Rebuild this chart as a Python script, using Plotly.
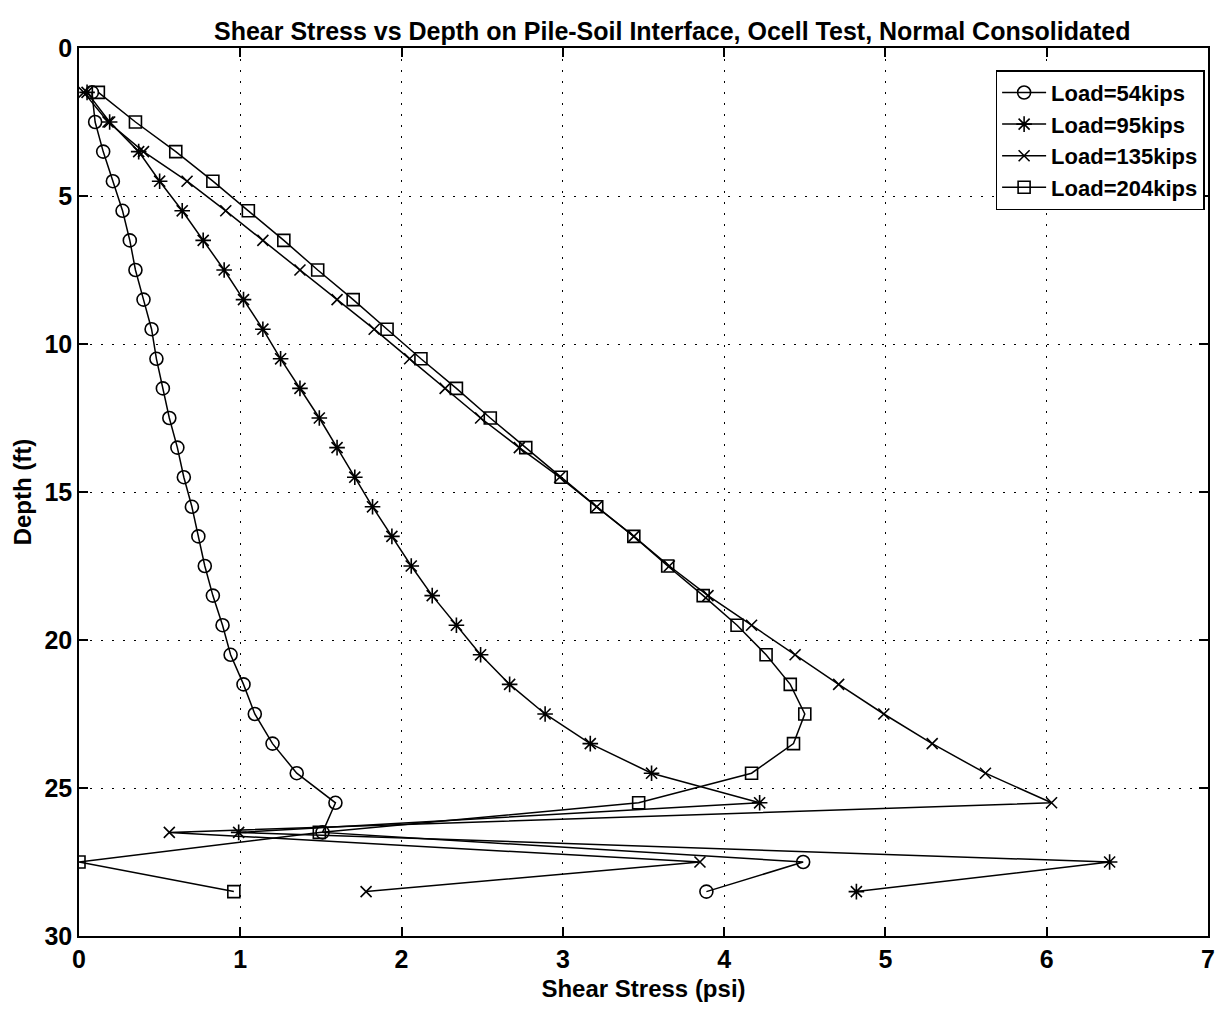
import plotly.graph_objects as go

depth_ft = [1.5, 2.5, 3.5, 4.5, 5.5, 6.5, 7.5, 8.5, 9.5, 10.5, 11.5, 12.5, 13.5, 14.5,
            15.5, 16.5, 17.5, 18.5, 19.5, 20.5, 21.5, 22.5, 23.5, 24.5, 25.5, 26.5, 27.5, 28.5]

stress_54kips = [0.08, 0.10, 0.15, 0.21, 0.27, 0.315, 0.35, 0.40, 0.45, 0.48, 0.52, 0.56, 0.61, 0.65,
                 0.70, 0.74, 0.78, 0.83, 0.89, 0.94, 1.02, 1.09, 1.20, 1.35, 1.59, 1.51, 4.49, 3.89]
stress_95kips = [0.05, 0.19, 0.37, 0.50, 0.64, 0.77, 0.90, 1.02, 1.14, 1.25, 1.37, 1.49, 1.60, 1.71,
                 1.82, 1.94, 2.06, 2.19, 2.34, 2.49, 2.67, 2.89, 3.17, 3.55, 4.22, 0.99, 6.39, 4.82]
stress_135kips = [0.03, 0.18, 0.40, 0.67, 0.91, 1.14, 1.37, 1.60, 1.83, 2.05, 2.27, 2.49, 2.73, 2.98,
                  3.21, 3.44, 3.66, 3.90, 4.17, 4.44, 4.71, 4.99, 5.29, 5.62, 6.03, 0.56, 3.85, 1.78]
stress_204kips = [0.12, 0.35, 0.60, 0.83, 1.05, 1.27, 1.48, 1.70, 1.91, 2.12, 2.34, 2.55, 2.77, 2.99,
                  3.21, 3.44, 3.65, 3.87, 4.08, 4.26, 4.41, 4.50, 4.43, 4.17, 3.47, 1.49, 0.00, 0.96]

series_names = ["Load=54kips", "Load=95kips", "Load=135kips", "Load=204kips"]
series_values = [stress_54kips, stress_95kips, stress_135kips, stress_204kips]
symbols = ["circle-open", "asterisk-open", "x-thin-open", "square-open"]
sizes = [13, 13, 11, 12]

x_ticks = [0, 1, 2, 3, 4, 5, 6, 7]
y_ticks = [0, 5, 10, 15, 20, 25, 30]

FONT = "Liberation Sans, Arial, sans-serif"

fig = go.Figure()
for name, vals, sym, sz in zip(series_names, series_values, symbols, sizes):
    fig.add_trace(go.Scatter(
        x=vals, y=depth_ft, name=name, mode="lines+markers",
        line=dict(color="black", width=1.5),
        marker=dict(symbol=sym, size=sz, color="black",
                    line=dict(color="black", width=1.6)),
    ))

axis_common = dict(
    showline=True, linecolor="black", linewidth=1.5, mirror="allticks",
    ticks="inside", ticklen=9, tickwidth=1.5, tickcolor="black",
    showgrid=True, gridcolor="black", gridwidth=1.3, griddash="2px,9px",
    zeroline=False,
    tickfont=dict(family=FONT, size=25, color="black", weight="bold"),
)

fig.update_layout(
    width=1220, height=1014,
    paper_bgcolor="white", plot_bgcolor="white",
    margin=dict(l=79, r=12, t=48, b=78, autoexpand=False),
    title=dict(
        text="<b>Shear Stress vs Depth on Pile-Soil Interface, Ocell Test, Normal Consolidated</b>",
        font=dict(family=FONT, size=25, color="black"),
        x=0.551, xref="container", xanchor="center",
        y=1 - 31 / 1014, yref="container", yanchor="middle",
    ),
    xaxis=dict(
        range=[0, 7], tickvals=x_ticks,
        title=dict(text="<b>Shear Stress (psi)</b>", standoff=8,
                   font=dict(family=FONT, size=24, color="black")),
        **axis_common,
    ),
    yaxis=dict(
        range=[30, 0], tickvals=y_ticks,
        title=dict(text="<b>Depth (ft)</b>", standoff=6,
                   font=dict(family=FONT, size=24, color="black")),
        **axis_common,
    ),
    legend=dict(
        x=0.997, xanchor="right", y=0.975, yanchor="top",
        bgcolor="white", bordercolor="black", borderwidth=1.5,
        font=dict(family=FONT, size=22, color="black", weight="bold"),
        tracegroupgap=0, itemwidth=44,
    ),
    showlegend=True,
)

fig.write_html("out.html")
